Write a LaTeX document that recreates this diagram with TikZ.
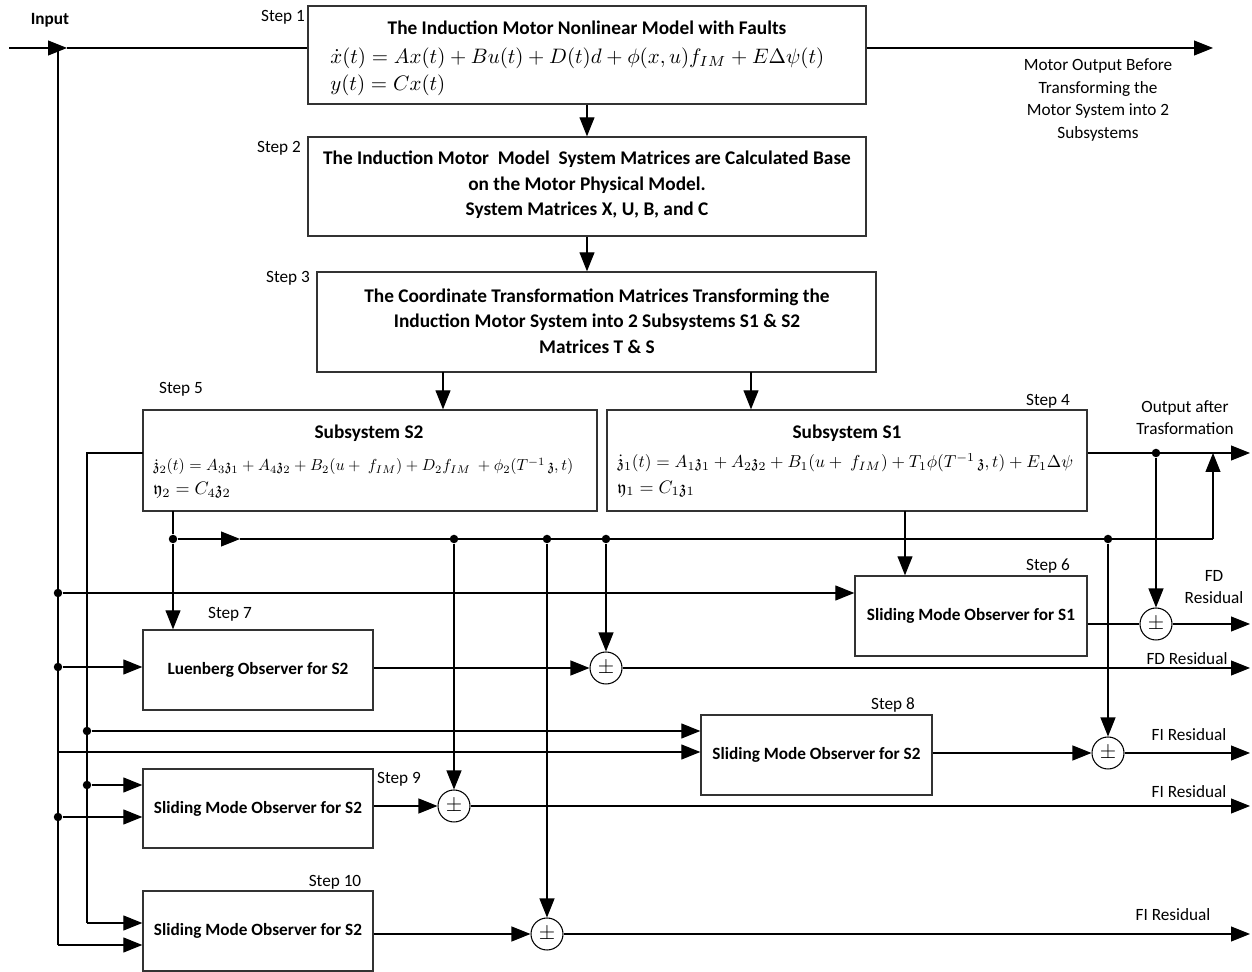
\documentclass[tikz,border=0pt]{standalone}
\usepackage{amsmath,amssymb}
\usepackage{fontspec}
\setmainfont{Carlito}
\usetikzlibrary{arrows.meta}
\begin{document}
\begin{tikzpicture}[x=0.02cm,y=-0.02cm,
  box/.style={draw=black!80, line width=0.8pt, inner sep=0pt},
  obox/.style={box, minimum width=4.6cm, minimum height=1.6cm, font=\fontsize{9.8}{12}\selectfont\bfseries},
  ln/.style={line width=0.6pt},
  arr/.style={line width=0.6pt,-{Triangle[length=0.38cm,width=0.3cm]}},
  lbl/.style={font=\fontsize{9.8}{13}\selectfont, inner sep=0pt, align=center},
  btxt/.style={font=\fontsize{11}{14.6}\selectfont\bfseries, inner sep=0pt, align=center},
  eq/.style={inner sep=0pt, anchor=west},
  sum/.style={circle, draw, line width=0.6pt, minimum size=0.64cm, inner sep=0pt, font=\large},
  dot/.style={circle, fill, inner sep=0pt, minimum size=0.17cm}
]
\useasboundingbox (0,0) rectangle (1252,972);

% ---------- main boxes ----------
\node[box, minimum width=11.16cm, minimum height=1.96cm] (b1) at (587,55) {};
\node[box, minimum width=11.16cm, minimum height=1.98cm] (b2) at (587,186.5) {};
\node[box, minimum width=11.18cm, minimum height=2.0cm] (b3) at (596.5,322) {};
\node[box, minimum width=9.08cm, minimum height=2.02cm] (sub2) at (370,460.5) {};
\node[box, minimum width=9.6cm, minimum height=2.02cm] (sub1) at (847,460.5) {};

\node[obox] (st7) at (258,670) {Luenberg Observer for S2};
\node[obox, minimum width=4.64cm] (st6) at (971,616) {Sliding Mode Observer for S1};
\node[obox, minimum width=4.62cm] (st8) at (816.5,755) {Sliding Mode Observer for S2};
\node[obox, minimum height=1.58cm] (st9) at (258,808.5) {Sliding Mode Observer for S2};
\node[obox] (st10) at (258,931) {Sliding Mode Observer for S2};

% ---------- texts in boxes ----------
\node[btxt] (t1) at (587,28) {The Induction Motor Nonlinear Model with Faults};
\node[eq] (e1) at (330,72) {\parbox{10cm}{\lineskiplimit=-50pt\baselineskip=15.3pt
  \resizebox{9.88cm}{!}{$\dot{x}(t) = Ax(t) + Bu(t) + D(t)d + \phi(x,u)f_{IM} + E\Delta\psi(t)$}\\
  \resizebox{2.3cm}{!}{$y(t) = Cx(t)$}}};

\node[btxt] (t2) at (587,185) {The Induction Motor\ \ Model\ \ System Matrices are Calculated Base\\on the Motor Physical Model.\\System Matrices X, U, B, and C};
\node[btxt] (t3) at (597,321) {The Coordinate Transformation Matrices Transforming the\\Induction Motor System into 2 Subsystems S1 \& S2\\Matrices T \& S};

\node[btxt] (ts2) at (369,433) {Subsystem S2};
\node[eq] (e2) at (153,478) {\parbox{9cm}{\lineskiplimit=-50pt\baselineskip=13.6pt
  \resizebox{8.4cm}{!}{$\dot{\mathfrak{z}}_2(t) = A_3\mathfrak{z}_1 + A_4\mathfrak{z}_2 + B_2(u+\ f_{IM}) + D_2 f_{IM}\ + \phi_2(T^{-1}\,\mathfrak{z},t)$}\\
  \resizebox{1.55cm}{!}{$\mathfrak{y}_2 = C_4\mathfrak{z}_2$}}};

\node[btxt] (ts1) at (847,433) {Subsystem S1};
\node[eq] (e3) at (617,475) {\parbox{9.4cm}{\lineskiplimit=-50pt\baselineskip=14.7pt
  \resizebox{9.12cm}{!}{$\dot{\mathfrak{z}}_1(t) = A_1\mathfrak{z}_1 + A_2\mathfrak{z}_2 + B_1(u+\ f_{IM}) + T_1\phi(T^{-1}\,\mathfrak{z},t) + E_1\Delta\psi$}\\
  \resizebox{1.55cm}{!}{$\mathfrak{y}_1 = C_1\mathfrak{z}_1$}}};

% ---------- labels ----------
\node[lbl, font=\fontsize{9.8}{13}\selectfont\bfseries] (linput) at (50,20) {Input};
\node[lbl] (l1) at (283,17) {Step 1};
\node[lbl] (l2) at (279,148) {Step 2};
\node[lbl] (l3) at (288,278) {Step 3};
\node[lbl] (l5) at (181,389) {Step 5};
\node[lbl] (l4) at (1048,401) {Step 4};
\node[lbl] (l6) at (1048,566) {Step 6};
\node[lbl] (l7) at (230,614) {Step 7};
\node[lbl] (l8) at (893,705) {Step 8};
\node[lbl] (l9) at (399,779) {Step 9};
\node[lbl] (l10) at (335,882) {Step 10};
\node[lbl] (lout1) at (1098,100) {Motor Output Before\\Transforming the\\Motor System into 2\\Subsystems};
\node[lbl, font=\fontsize{9.8}{12.4}\selectfont] (lout2) at (1185,418) {Output after\\Trasformation};
\node[lbl, font=\fontsize{9.8}{12.4}\selectfont] (lfd1) at (1214,587) {FD\\Residual};
\node[lbl] (lfd2) at (1187,659) {FD Residual};
\node[lbl] (lfi1) at (1189,735) {FI Residual};
\node[lbl] (lfi2) at (1189,792) {FI Residual};
\node[lbl] (lfi3) at (1173,915) {FI Residual};

% ---------- sums ----------
\node[sum] (sA) at (606,668) {$\pm$};
\node[sum] (sB) at (1156,624) {$\pm$};
\node[sum] (sC) at (1108,753) {$\pm$};
\node[sum] (sD) at (454,806) {$\pm$};
\node[sum] (sE) at (547,934) {$\pm$};

% ---------- dots ----------
\node[dot] (d1) at (58,593) {};
\node[dot] (d2) at (58,667) {};
\node[dot] (d3) at (58,817) {};
\node[dot] (d4) at (87,731) {};
\node[dot] (d5) at (87,785) {};
\node[dot] (bus1) at (173,539) {};
\node[dot] (busD) at (454,539) {};
\node[dot] (busE) at (547,539) {};
\node[dot] (busA) at (606,539) {};
\node[dot] (busC) at (1108,539) {};
\node[dot] (dout) at (1156,453) {};

% ---------- coordinates ----------
\coordinate (in0) at (9,48);
\coordinate (inarr) at (67,48);
\coordinate (inv) at (58,48);
\coordinate (c58bot) at (58,945);
\coordinate (s2l) at (143,453);
\coordinate (c87top) at (87,453);
\coordinate (c87bot) at (87,923);
\coordinate (c752) at (58,752);
\coordinate (o1) at (1213,48);
\coordinate (tS2) at (443,372);
\coordinate (tS1) at (751,372);
\coordinate (oS1) at (1250,453);
\coordinate (busarr) at (240,539);
\coordinate (busend) at (1213,539);
\coordinate (outj) at (1213,453);
\coordinate (s1b) at (905,511);
\coordinate (s2b) at (173,511);

% ---------- connectors: top ----------
\draw[arr] (in0) -- (inarr);
\draw[ln] (inarr) -- (in0 -| b1.west);
\draw[arr] (in0 -| b1.east) -- (o1);
\draw[arr] (b1) -- (b2);
\draw[arr] (b2.south) -- (b2.south |- b3.north);
\draw[arr] (tS2) -- (tS2 |- sub2.north);
\draw[arr] (tS1) -- (tS1 |- sub1.north);

% ---------- left verticals ----------
\draw[ln] (inv) -- (c58bot);
\draw[arr] (c58bot) -- (c58bot -| st10.west);
\draw[ln] (s2l) -- (c87top) -- (c87bot);
\draw[arr] (c87bot) -- (c87bot -| st10.west);
\draw[arr] (d1) -- (d1 -| st6.west);
\draw[arr] (d2) -- (d2 -| st7.west);
\draw[arr] (d4) -- (d4 -| st8.west);
\draw[arr] (c752) -- (c752 -| st8.west);
\draw[arr] (d5) -- (d5 -| st9.west);
\draw[arr] (d3) -- (d3 -| st9.west);

% ---------- bus ----------
\draw[ln] (s2b) -- (bus1);
\draw[arr] (bus1) -- (bus1 |- st7.north);
\draw[arr] (bus1) -- (busarr);
\draw[ln] (busarr) -- (busend);
\draw[arr] (busend) -- (outj);
\draw[arr] (busA) -- (sA);
\draw[arr] (busD) -- (sD);
\draw[arr] (busE) -- (sE);
\draw[arr] (busC) -- (sC);
\draw[arr] (s1b) -- (s1b |- st6.north);

% ---------- S1 output ----------
\draw[arr] (sub1.east |- oS1) -- (oS1);
\draw[arr] (dout) -- (sB);

% ---------- observers to sums ----------
\draw[arr] (st7.east |- sA) -- (sA);
\draw[ln] (st6.east |- sB) -- (sB);
\draw[arr] (st8.east |- sC) -- (sC);
\draw[arr] (st9.east |- sD) -- (sD);
\draw[arr] (st10.east |- sE) -- (sE);

% ---------- residual outputs ----------
\draw[arr] (sA) -- (sA -| oS1);
\draw[arr] (sB) -- (sB -| oS1);
\draw[arr] (sC) -- (sC -| oS1);
\draw[arr] (sD) -- (sD -| oS1);
\draw[arr] (sE) -- (sE -| oS1);
\end{tikzpicture}
\end{document}
